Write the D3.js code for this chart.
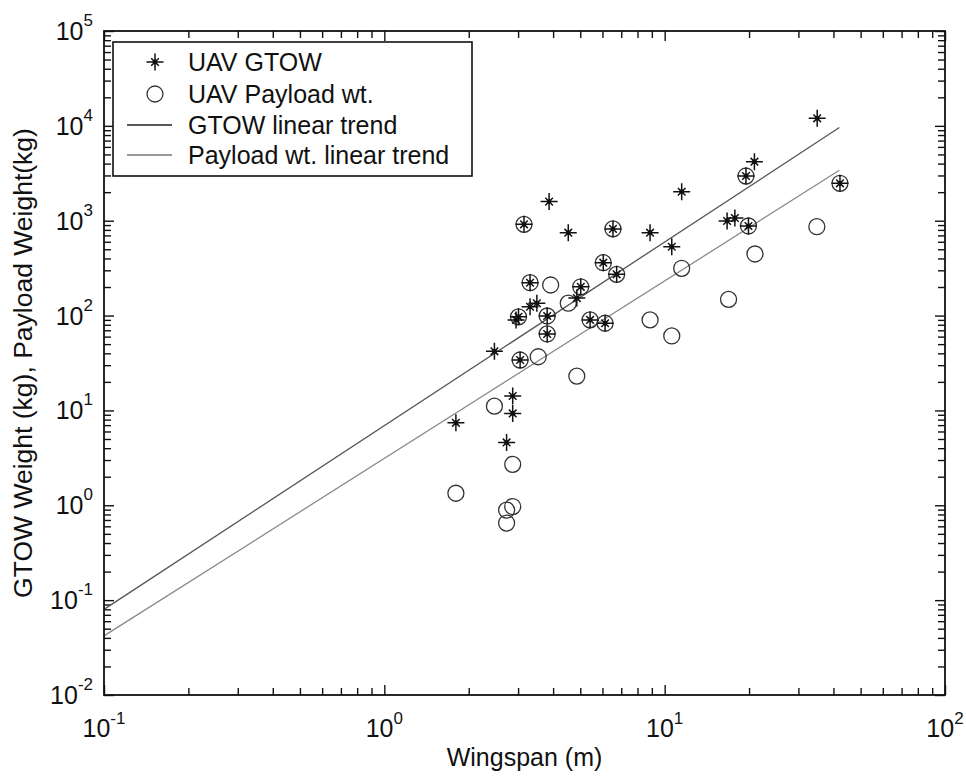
<!DOCTYPE html>
<html><head><meta charset="utf-8">
<script src="https://cdn.jsdelivr.net/npm/d3@7"></script>
<style>body{margin:0;background:#fff}text{font-family:"Liberation Sans",Arial,Helvetica,sans-serif;fill:#111}</style>
</head><body><svg id="c" width="966" height="778"></svg>
<script>
// ---- data ----
const gtowSpan   = [1.80, 2.47, 2.73, 2.87, 2.87, 2.95, 3.01, 3.05, 3.15, 3.31, 3.31, 3.50, 3.81, 3.81, 3.87, 4.53, 4.86, 5.02, 5.42, 6.04, 6.13, 6.54, 6.74, 8.87, 10.6, 11.5, 16.7, 17.8, 19.5, 19.9, 20.9, 35.0, 42.2];
const gtowWeight = [7.4, 42, 4.6, 14.2, 9.3, 90, 97, 34, 916, 222, 124, 135, 99, 64, 1590, 748, 153, 201, 90, 361, 83, 820, 272, 748, 532, 2020, 993, 1068, 2960, 880, 4190, 12000, 2480];
const payloadSpan   = [1.80, 2.47, 2.73, 2.73, 2.87, 2.87, 3.01, 3.05, 3.15, 3.31, 3.54, 3.81, 3.81, 3.92, 4.53, 4.86, 5.02, 5.42, 6.04, 6.13, 6.54, 6.74, 8.87, 10.6, 11.5, 16.9, 19.5, 19.9, 21.0, 34.9, 42.2];
const payloadWeight = [1.34, 11.1, 0.89, 0.65, 0.97, 2.70, 97, 34, 916, 222, 36.8, 99, 64, 210, 135, 23, 201, 90, 361, 83, 820, 272, 90, 61, 315, 148, 2960, 880, 446, 865, 2480];
const trendSpan    = [0.1, 42];
const gtowTrend    = [0.08, 9600];
const payloadTrend = [0.042, 3400];
const xTickExps = [-1, 0, 1, 2];
const yTickExps = [-2, -1, 0, 1, 2, 3, 4, 5];
const legendLabels = ["UAV GTOW", "UAV Payload wt.", "GTOW linear trend", "Payload wt. linear trend"];
const xTitle = "Wingspan (m)";
const yTitle = "GTOW Weight (kg), Payload Weight(kg)";

// ---- layout ----
const L = 104, R = 945, T = 31, B = 695;
const svg = d3.select("#c");
const x = d3.scaleLog().domain([0.1, 100]).range([L, R]);
const y = d3.scaleLog().domain([1e-2, 1e5]).range([B, T]);

const minors = (exps) => {
  const out = [];
  for (let i = 0; i < exps.length - 1; i++) for (let m = 2; m <= 9; m++) out.push(m * Math.pow(10, exps[i]));
  return out;
};
const xMaj = xTickExps.map(e => Math.pow(10, e)), yMaj = yTickExps.map(e => Math.pow(10, e));
const xMin = minors(xTickExps), yMin = minors(yTickExps);

function axisTicks(axisFn, scale, vals, len, tr) {
  const g = svg.append("g").attr("transform", tr)
    .call(axisFn(scale).tickValues(vals).tickSize(-len).tickSizeOuter(0).tickFormat(""));
  g.select(".domain").remove();
  g.selectAll("line").attr("stroke", "#111").attr("stroke-width", 1.4);
  g.selectAll("text").remove();
  return g;
}
axisTicks(d3.axisBottom, x, xMaj, 10, `translate(0,${B})`);
axisTicks(d3.axisBottom, x, xMin, 7, `translate(0,${B})`);
axisTicks(d3.axisTop, x, xMaj, 10, `translate(0,${T})`);
axisTicks(d3.axisTop, x, xMin, 7, `translate(0,${T})`);
axisTicks(d3.axisLeft, y, yMaj, 10, `translate(${L},0)`);
axisTicks(d3.axisLeft, y, yMin, 7, `translate(${L},0)`);
axisTicks(d3.axisRight, y, yMaj, 10, `translate(${R},0)`);
axisTicks(d3.axisRight, y, yMin, 7, `translate(${R},0)`);

// tick labels with superscripts
const xl = svg.append("g");
xTickExps.forEach(e => {
  const t = xl.append("text").attr("x", x(Math.pow(10, e))).attr("y", 737)
    .attr("text-anchor", "middle").attr("font-size", 25);
  t.append("tspan").text("10");
  t.append("tspan").attr("dy", -13).attr("font-size", 17).text(String(e));
});
const yl = svg.append("g");
yTickExps.forEach(e => {
  const t = yl.append("text").attr("x", 93).attr("y", y(Math.pow(10, e)) + 9)
    .attr("text-anchor", "end").attr("font-size", 25);
  t.append("tspan").text("10");
  t.append("tspan").attr("dy", -14).attr("font-size", 17).text(String(e));
});

// titles
svg.append("text").attr("x", (L + R) / 2).attr("y", 766).attr("text-anchor", "middle")
  .attr("font-size", 25).text(xTitle);
svg.append("text").attr("transform", `translate(32,${(T + B) / 2}) rotate(-90)`)
  .attr("text-anchor", "middle").attr("font-size", 26.5).text(yTitle);

// clip
svg.append("clipPath").attr("id", "pc").append("rect")
  .attr("x", L).attr("y", T).attr("width", R - L).attr("height", B - T);
const plot = svg.append("g").attr("clip-path", "url(#pc)");

const starPath = "M-8.5,0H8.5M0,-8.5V8.5M-3.8,-3.8L3.8,3.8M-3.8,3.8L3.8,-3.8";

// trend lines
const line = d3.line().x(d => x(d[0])).y(d => y(d[1]));
plot.append("path").datum(d3.zip(trendSpan, gtowTrend)).attr("d", line)
  .attr("fill", "none").attr("stroke", "#555").attr("stroke-width", 1.3);
plot.append("path").datum(d3.zip(trendSpan, payloadTrend)).attr("d", line)
  .attr("fill", "none").attr("stroke", "#8a8a8a").attr("stroke-width", 1.3);

// payload circles
plot.selectAll("circle.p").data(d3.zip(payloadSpan, payloadWeight)).join("circle")
  .attr("class", "p").attr("cx", d => x(d[0])).attr("cy", d => y(d[1])).attr("r", 8)
  .attr("fill", "none").attr("stroke", "#333").attr("stroke-width", 1.3);

// gtow stars
const stars = plot.selectAll("g.s").data(d3.zip(gtowSpan, gtowWeight)).join("g")
  .attr("class", "s").attr("transform", d => `translate(${x(d[0])},${y(d[1])})`);
stars.append("path").attr("d", starPath).attr("stroke", "#111").attr("stroke-width", 1.5).attr("fill", "none");
stars.append("circle").attr("r", 2.4).attr("fill", "#111");

// frame
svg.append("rect").attr("x", L).attr("y", T).attr("width", R - L).attr("height", B - T)
  .attr("fill", "none").attr("stroke", "#111").attr("stroke-width", 1.8);

// legend
const lg = svg.append("g");
lg.append("rect").attr("x", 113).attr("y", 42).attr("width", 359).attr("height", 134)
  .attr("fill", "#fff").attr("stroke", "#111").attr("stroke-width", 1.6);
const rowY = [62, 94, 125, 155];
const s0 = lg.append("g").attr("transform", `translate(155,${rowY[0]})`);
s0.append("path").attr("d", starPath).attr("stroke", "#111").attr("stroke-width", 1.5);
s0.append("circle").attr("r", 2.4).attr("fill", "#111");
lg.append("circle").attr("cx", 155).attr("cy", rowY[1]).attr("r", 8)
  .attr("fill", "none").attr("stroke", "#333").attr("stroke-width", 1.3);
lg.append("line").attr("x1", 127).attr("x2", 172).attr("y1", rowY[2]).attr("y2", rowY[2])
  .attr("stroke", "#222").attr("stroke-width", 1.3);
lg.append("line").attr("x1", 127).attr("x2", 172).attr("y1", rowY[3]).attr("y2", rowY[3])
  .attr("stroke", "#777").attr("stroke-width", 1.3);
legendLabels.forEach((t, i) => {
  lg.append("text").attr("x", 188).attr("y", rowY[i] + 9).attr("font-size", 25).text(t);
});
</script></body></html>
